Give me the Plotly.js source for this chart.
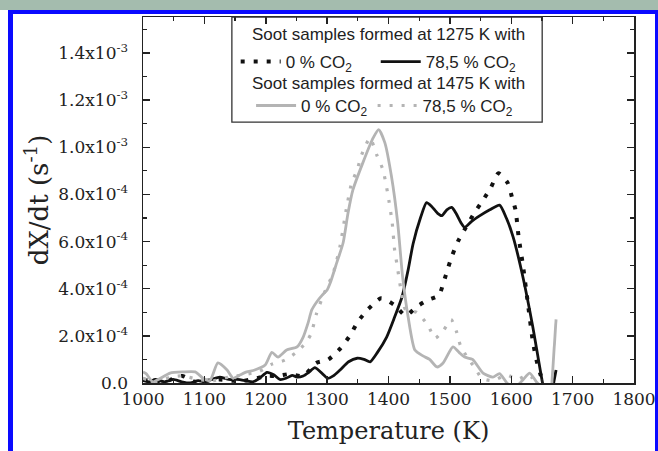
<!DOCTYPE html>
<html>
<head>
<meta charset="utf-8">
<script src="https://cdn.plot.ly/plotly-3.0.1.min.js"></script>
<style>
  html, body { margin: 0; padding: 0; background: #ffffff; }
  #wrap { position: relative; width: 658px; height: 451px; overflow: hidden; }
  #chart { position: absolute; left: 0; top: 0; width: 658px; height: 451px; }
  .deco { position: absolute; pointer-events: none; }
</style>
</head>
<body>
<div id="wrap">
  <div id="chart"></div>
  <div class="deco" style="left:0;top:0;width:658px;height:10px;background:#a4bcae;"></div>
  <div class="deco" style="left:8px;top:10px;width:650px;height:4px;background:#0a0aff;"></div>
  <div class="deco" style="left:8px;top:10px;width:5px;height:441px;background:#0a0aff;"></div>
  <div class="deco" style="left:655px;top:10px;width:3px;height:441px;background:#0a0aff;"></div>
</div>
<script>
// Temperature (K) and dX/dt values in units of 1e-4 s^-1
const blackSolidT = [1000,1010,1020,1035,1049,1063,1077,1090,1100,1112,1125,1140,1153,1167,1179,1190,1202,1213,1223,1233,1243,1252,1261,1270,1280,1290,1301,1310,1321,1335,1349,1360,1370,1382,1397,1410,1422,1432,1440,1452,1462,1470,1480,1487,1495,1503,1510,1518,1524,1535,1549,1565,1581,1592,1603,1619,1635,1651,1654,1660,1667,1673];
const blackSolidY = [0.1,0.05,0.15,0.05,0.15,0.05,0.0,0.1,0.05,0.15,0.25,0.15,0.15,0.1,0.05,0.2,0.45,0.35,0.15,0.2,0.32,0.25,0.3,0.45,0.65,0.45,0.2,0.3,0.55,0.9,1.05,1.0,0.9,1.3,1.95,2.8,3.65,4.8,5.9,7.0,7.65,7.5,7.2,7.1,7.35,7.45,7.2,6.8,6.6,6.85,7.1,7.35,7.55,7.0,6.2,4.5,2.4,0.0,-0.3,null,-0.3,0.55];

const blackDotT = [1000,1020,1040,1064,1085,1105,1125,1145,1165,1185,1200,1220,1239,1261,1282,1302,1322,1338,1350,1367,1388,1410,1428,1446,1464,1482,1490,1497,1504,1514,1526,1539,1554,1567,1579,1594,1601,1607,1612,1619,1627,1635,1641,1647,1652];
const blackDotY = [0.15,0.05,0.1,0.3,0.05,0.1,0.15,0.1,0.1,0.2,0.3,0.3,0.38,0.3,0.85,1.0,1.48,2.04,2.6,3.14,3.6,3.3,2.86,3.24,3.52,3.72,4.29,4.88,5.43,6.05,6.6,7.18,7.76,8.3,8.9,8.5,7.9,7.34,6.2,5.0,3.4,1.8,0.98,0.42,0.0];

const graySolidT = [1000,1005,1016,1025,1044,1065,1085,1098,1109,1122,1137,1147,1158,1169,1182,1199,1210,1220,1234,1251,1261,1269,1275,1283,1292,1300,1305,1316,1326,1334,1342,1358,1375,1384,1394,1405,1415,1423,1432,1443,1456,1467,1479,1489,1505,1515,1524,1537,1554,1570,1581,1593,1605,1619,1630,1641,1650,1658,1666,1673];
const graySolidY = [0.47,0.4,0.05,0.15,0.42,0.47,0.47,0.2,0.1,0.85,0.55,0.2,0.34,0.47,0.55,0.76,1.3,1.1,1.4,1.53,1.95,2.55,3.1,3.44,3.73,3.95,4.24,5.13,5.94,7.2,8.19,9.33,10.4,10.75,10.2,8.74,6.79,4.5,2.8,1.4,1.15,1.0,0.68,0.85,1.53,1.3,1.1,1.0,0.42,0.25,0.4,0.0,-0.2,0.13,0.42,0.05,-0.2,null,-0.1,2.7];

const grayDotT = [1000,1020,1045,1065,1090,1115,1140,1165,1190,1210,1231,1250,1265,1274,1283,1295,1310,1321,1331,1340,1349,1355,1363,1370,1381,1391,1399,1406,1410,1414,1420,1428,1446,1464,1476,1490,1502,1511,1517,1529,1541,1552,1570,1593,1610,1627,1640];
const grayDotY = [0.2,0.05,0.25,0.3,0.15,0.1,0.25,0.35,0.5,0.8,0.97,1.3,1.7,2.1,2.97,3.8,4.67,5.8,7.34,8.5,9.04,9.6,10.1,10.4,9.67,9.04,8.0,6.8,5.64,5.0,4.0,3.1,3.0,2.46,1.9,2.25,2.7,2.16,1.61,1.06,0.64,0.2,0.1,0.34,0.15,0.34,0.1];

const yTickVals = [0, 2e-4, 4e-4, 6e-4, 8e-4, 1.0e-3, 1.2e-3, 1.4e-3];
const yTickText = ['0.0','2.0x10<sup>-4</sup>','4.0x10<sup>-4</sup>','6.0x10<sup>-4</sup>','8.0x10<sup>-4</sup>','1.0x10<sup>-3</sup>','1.2x10<sup>-3</sup>','1.4x10<sup>-3</sup>'];
const xTickVals = [1000,1100,1200,1300,1400,1500,1600,1700,1800];
const legendHeaders = ['Soot samples formed at 1275 K with', 'Soot samples formed at 1475 K with'];
const seriesNames = ['0 % CO<sub>2</sub>', '78,5 % CO<sub>2</sub>'];

const scale = v => v === null ? null : v * 1e-4;
const pad = n => '\u00a0'.repeat(n);
const black = '#111111', gray = '#b4b4b4';

const traces = [
  {x: blackDotT, y: blackDotY.map(scale), name: seriesNames[0] + pad(4), legend: 'legend',
   mode: 'lines', line: {color: black, width: 4, dash: '4px,9px', shape: 'spline', smoothing: 0.6}},
  {x: blackSolidT, y: blackSolidY.map(scale), name: seriesNames[1], legend: 'legend',
   mode: 'lines', line: {color: black, width: 2.8, shape: 'spline', smoothing: 0.6}, connectgaps: false},
  {x: graySolidT, y: graySolidY.map(scale), name: seriesNames[0], legend: 'legend2',
   mode: 'lines', line: {color: gray, width: 2.8, shape: 'spline', smoothing: 0.6}, connectgaps: false},
  {x: grayDotT, y: grayDotY.map(scale), name: seriesNames[1], legend: 'legend2',
   mode: 'lines', line: {color: gray, width: 3.2, dash: '3px,9px', shape: 'spline', smoothing: 0.6}}
];

const serif = 'DejaVu Serif, serif';
const sans = 'Liberation Sans, Arial, sans-serif';

const layout = {
  width: 658, height: 451,
  margin: {l: 143, r: 24, t: 17, b: 68, pad: 0},
  paper_bgcolor: '#ffffff', plot_bgcolor: '#ffffff',
  showlegend: true,
  xaxis: {
    range: [1000, 1800], tickvals: xTickVals, ticktext: xTickVals.map(String),
    ticks: 'inside', ticklen: 7, tickwidth: 1.5, tickcolor: '#222',
    minor: {dtick: 50, ticks: 'inside', ticklen: 4, tickwidth: 1.2, tickcolor: '#222'},
    showline: true, linecolor: '#222', linewidth: 1.5, mirror: 'allticks',
    showgrid: false, zeroline: false,
    tickfont: {family: serif, size: 17, color: '#222'},
    ticklabelstandoff: 0,
    title: {text: 'Temperature (K)', font: {family: serif, size: 24, color: '#222'}, standoff: 14},
    automargin: false
  },
  yaxis: {
    range: [0, 1.553e-3], tickvals: yTickVals, ticktext: yTickText,
    ticks: 'inside', ticklen: 7, tickwidth: 1.5, tickcolor: '#222',
    minor: {dtick: 1e-4, ticks: 'inside', ticklen: 4, tickwidth: 1.2, tickcolor: '#222'},
    showline: true, linecolor: '#222', linewidth: 1.5, mirror: 'allticks',
    showgrid: false, zeroline: false,
    tickfont: {family: serif, size: 17, color: '#222'},
    ticklabelstandoff: 10,
    title: {text: 'dX/dt (s<sup>-1</sup>)', font: {family: serif, size: 26, color: '#222'}, standoff: 2},
    automargin: false
  },
  legend: {
    x: 0.480, xanchor: 'center', y: 0.877, yanchor: 'middle', orientation: 'h',
    bgcolor: 'rgba(0,0,0,0)', borderwidth: 0, itemwidth: 40,
    font: {family: sans, size: 17, color: '#222'}
  },
  legend2: {
    x: 0.492, xanchor: 'center', y: 0.757, yanchor: 'middle', orientation: 'h',
    bgcolor: 'rgba(0,0,0,0)', borderwidth: 0, itemwidth: 40,
    font: {family: sans, size: 17, color: '#222'}
  },
  annotations: [
    {text: legendHeaders[0], xref: 'paper', yref: 'paper', x: 0.499, y: 0.951,
     xanchor: 'center', yanchor: 'middle', showarrow: false,
     font: {family: sans, size: 17, color: '#222'}},
    {text: legendHeaders[1], xref: 'paper', yref: 'paper', x: 0.499, y: 0.817,
     xanchor: 'center', yanchor: 'middle', showarrow: false,
     font: {family: sans, size: 17, color: '#222'}}
  ],
  shapes: [
    {type: 'rect', xref: 'paper', yref: 'paper', x0: 0.181, x1: 0.813, y0: 0.713, y1: 1.0,
     line: {color: '#333', width: 1.3}, fillcolor: 'rgba(255,255,255,0)', layer: 'above'}
  ]
};

Plotly.newPlot('chart', traces, layout, {staticPlot: true, displayModeBar: false});
</script>
</body>
</html>
